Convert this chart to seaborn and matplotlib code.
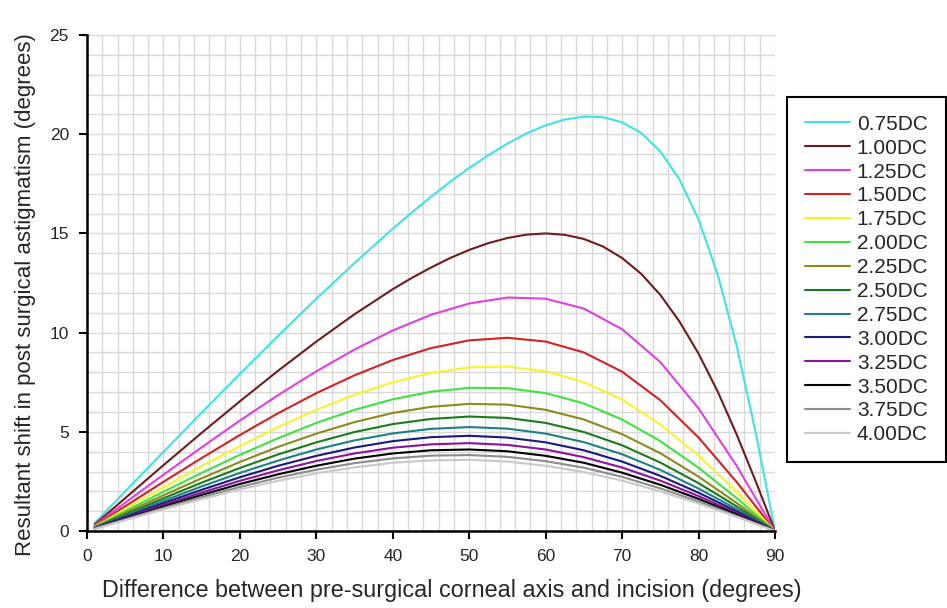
import numpy as np
import pandas as pd
import matplotlib
matplotlib.use("Agg")
import matplotlib.pyplot as plt
from matplotlib.ticker import MultipleLocator
import seaborn as sns

# angle grid (degrees)
angle = [1, 5, 10, 15, 20, 25, 30, 35, 40, 45, 50, 55, 60, 65, 70, 75, 80, 85, 90]
# denser grid for the two steep curves
angle_fine = [1, 5, 10, 15, 20, 25, 30, 35, 40, 42.5, 45, 47.5, 50, 52.5, 55, 57.5, 60,
              62.5, 65, 67.5, 70, 72.5, 75, 77.5, 80, 82.5, 85, 87.5, 90]

shift_075 = [0.40, 2.00, 3.99, 5.97, 7.92, 9.84, 11.71, 13.51, 15.24, 16.06, 16.85, 17.60,
             18.30, 18.94, 19.53, 20.04, 20.45, 20.74, 20.89, 20.86, 20.60, 20.06, 19.13,
             17.72, 15.70, 12.92, 9.31, 4.91, 0.0]
shift_100 = [0.33, 1.66, 3.32, 4.95, 6.54, 8.08, 9.55, 10.93, 12.19, 12.76, 13.28, 13.76,
             14.17, 14.51, 14.77, 14.94, 15.00, 14.93, 14.72, 14.34, 13.76, 12.96, 11.90,
             10.56, 8.94, 7.03, 4.85, 2.48, 0.0]
shift_125 = [0.29, 1.43, 2.84, 4.22, 5.57, 6.85, 8.05, 9.15, 10.11, 10.90, 11.47, 11.77, 11.71, 11.21, 10.17, 8.51, 6.18, 3.27, 0.0]
shift_150 = [0.25, 1.25, 2.48, 3.68, 4.84, 5.94, 6.95, 7.85, 8.62, 9.22, 9.61, 9.74, 9.55, 9.00, 8.03, 6.59, 4.71, 2.46, 0.0]
shift_175 = [0.22, 1.11, 2.20, 3.27, 4.28, 5.24, 6.11, 6.87, 7.50, 7.97, 8.25, 8.29, 8.05, 7.50, 6.62, 5.37, 3.80, 1.97, 0.0]
shift_200 = [0.20, 1.00, 1.98, 2.93, 3.84, 4.68, 5.45, 6.11, 6.64, 7.02, 7.22, 7.20, 6.95, 6.43, 5.62, 4.53, 3.19, 1.65, 0.0]
shift_225 = [0.18, 0.91, 1.80, 2.66, 3.48, 4.24, 4.91, 5.49, 5.95, 6.26, 6.41, 6.37, 6.11, 5.62, 4.88, 3.92, 2.74, 1.41, 0.0]
shift_250 = [0.17, 0.83, 1.65, 2.44, 3.18, 3.86, 4.47, 4.99, 5.39, 5.65, 5.77, 5.70, 5.45, 4.99, 4.32, 3.45, 2.41, 1.24, 0.0]
shift_275 = [0.15, 0.77, 1.52, 2.25, 2.93, 3.55, 4.11, 4.57, 4.92, 5.15, 5.24, 5.16, 4.91, 4.48, 3.87, 3.08, 2.14, 1.10, 0.0]
shift_300 = [0.14, 0.71, 1.41, 2.08, 2.71, 3.29, 3.79, 4.21, 4.53, 4.73, 4.80, 4.71, 4.47, 4.07, 3.50, 2.78, 1.93, 0.99, 0.0]
shift_325 = [0.13, 0.66, 1.32, 1.94, 2.53, 3.06, 3.53, 3.91, 4.20, 4.37, 4.43, 4.34, 4.11, 3.72, 3.20, 2.54, 1.76, 0.90, 0.0]
shift_350 = [0.12, 0.62, 1.23, 1.82, 2.37, 2.86, 3.29, 3.65, 3.91, 4.07, 4.11, 4.02, 3.79, 3.44, 2.94, 2.33, 1.62, 0.83, 0.0]
shift_375 = [0.12, 0.59, 1.16, 1.71, 2.22, 2.69, 3.09, 3.42, 3.66, 3.80, 3.83, 3.74, 3.52, 3.19, 2.73, 2.15, 1.49, 0.76, 0.0]
shift_400 = [0.11, 0.55, 1.10, 1.61, 2.10, 2.53, 2.91, 3.21, 3.44, 3.56, 3.59, 3.50, 3.29, 2.97, 2.54, 2.00, 1.39, 0.71, 0.0]

labels = ["0.75DC", "1.00DC", "1.25DC", "1.50DC", "1.75DC", "2.00DC", "2.25DC",
          "2.50DC", "2.75DC", "3.00DC", "3.25DC", "3.50DC", "3.75DC", "4.00DC"]
series = [shift_075, shift_100, shift_125, shift_150, shift_175, shift_200, shift_225,
          shift_250, shift_275, shift_300, shift_325, shift_350, shift_375, shift_400]
colors = ["#3EE3EA", "#701C1C", "#E23FE2", "#D42222", "#F5F52A", "#3FE23F", "#8C8A1E",
          "#1B7A1B", "#1F8080", "#1A1A7E", "#8A139C", "#000000", "#8C8C8C", "#C8C8C8"]

frames = []
for lab, vals in zip(labels, series):
    xs = angle_fine if len(vals) == len(angle_fine) else angle
    frames.append(pd.DataFrame({"angle": xs, "shift": vals, "cyl": lab}))
df = pd.concat(frames, ignore_index=True)

sns.set_style("white")
plt.rcParams["font.family"] = ["Liberation Sans", "DejaVu Sans"]

fig = plt.figure(figsize=(9.47, 6.08), dpi=100)
ax = fig.add_axes([0.0919, 0.1266, 0.7265, 0.8158])

sns.lineplot(data=df, x="angle", y="shift", hue="cyl", hue_order=labels,
             palette=dict(zip(labels, colors)), linewidth=1.5, ax=ax, legend=True)

ax.set_xlim(0, 90)
ax.set_ylim(0, 25)
ax.xaxis.set_major_locator(MultipleLocator(10))
ax.yaxis.set_major_locator(MultipleLocator(5))
ax.xaxis.set_minor_locator(MultipleLocator(2))
ax.yaxis.set_minor_locator(MultipleLocator(1))
ax.grid(which="both", color="#D8D8D8", linewidth=1.0)
ax.set_axisbelow(True)
ax.tick_params(which="major", direction="out", length=6, width=1.5, color="black",
               labelsize=12.5, pad=7, bottom=True, left=True)
ax.tick_params(which="minor", length=0)
for side in ["top", "right"]:
    ax.spines[side].set_visible(False)
for side in ["left", "bottom"]:
    ax.spines[side].set_color("black")
    ax.spines[side].set_linewidth(1.8)

ax.set_xlabel("Difference between pre-surgical corneal axis and incision (degrees)",
              fontsize=16.8)
ax.xaxis.set_label_coords(0.530, -0.097)
ax.set_ylabel("Resultant shift in post surgical astigmatism (degrees)",
              fontsize=16, labelpad=10)
ax.yaxis.label.set_y(0.476)

leg = ax.legend(loc="upper left", bbox_to_anchor=(787 / 947, 1 - 97 / 608),
                bbox_transform=fig.transFigure, borderaxespad=0, fontsize=15,
                frameon=True, fancybox=False, handlelength=2.15, labelspacing=0.235,
                borderpad=0.85, handletextpad=0.35)
leg.get_frame().set_edgecolor("black")
leg.get_frame().set_linewidth(1.5)
leg.get_frame().set_alpha(1)

fig.savefig("out.png", dpi=100)
